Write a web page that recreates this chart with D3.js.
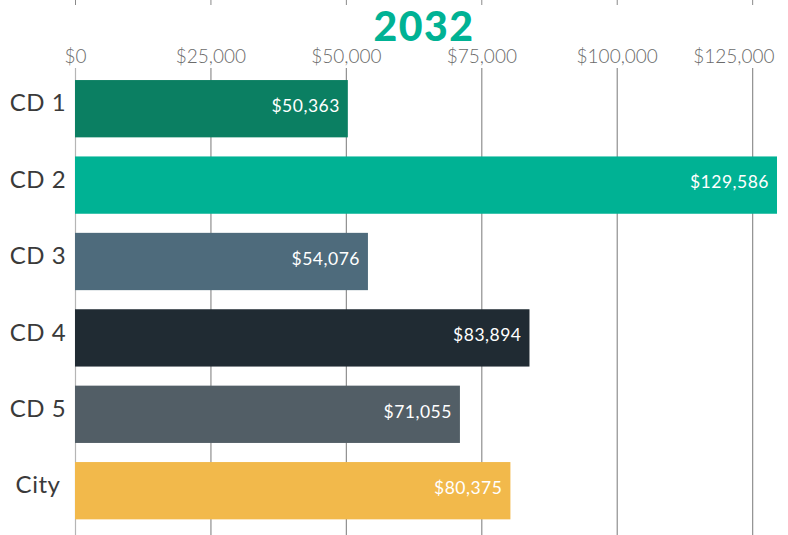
<!DOCTYPE html>
<html>
<head>
<meta charset="utf-8">
<script src="https://cdn.jsdelivr.net/npm/d3@7"></script>
<style>
  html, body { margin: 0; padding: 0; background: #fff; }
  svg { display: block; }
</style>
</head>
<body>
<svg id="chart" width="788" height="535"></svg>
<script>
// Household income by council district, 2032
const year = "2032";
const districts = ["CD 1", "CD 2", "CD 3", "CD 4", "CD 5", "City"];
const incomes = [50363, 129586, 54076, 83894, 71055, 80375];
const barColors = ["#0b7f62", "#00b294", "#4e6b7c", "#202b33", "#525e66", "#f2b94b"];
const tickValues = [0, 25000, 50000, 75000, 100000, 125000];

const W = 788, H = 535;
const margin = { top: 68, right: 11, bottom: 0, left: 75 };

const svg = d3.select("#chart");

const x = d3.scaleLinear()
  .domain([0, d3.max(incomes)])
  .range([margin.left, W - margin.right]);

const y = d3.scaleBand()
  .domain(districts)
  .range([70.5, 528.9])
  .paddingInner(0.25)
  .paddingOuter(0.125);

const money = d3.format("$,");
const font = "Lato, 'Open Sans', sans-serif";

// Short marks along the very top edge
const topTicks = svg.append("g")
  .attr("transform", "translate(0,5)")
  .call(d3.axisTop(x).tickValues(tickValues).tickSize(5).tickFormat(""));
topTicks.select(".domain").remove();
topTicks.selectAll("line").attr("stroke", "#8a8a8a");

// Axis with full-height gridlines
const axis = svg.append("g")
  .attr("transform", `translate(0,${margin.top})`)
  .call(d3.axisTop(x)
    .tickValues(tickValues)
    .tickFormat(money)
    .tickSizeInner(-(H - margin.top))
    .tickSizeOuter(0)
    .tickPadding(5));
axis.select(".domain").remove();
axis.selectAll(".tick line")
  .attr("stroke", (d, i) => i === 0 ? "#b5b5b5" : "#8f8f8f")
  .attr("stroke-width", 1.2);
axis.selectAll(".tick text")
  .attr("fill", "#6b6b6b")
  .style("font-family", font)
  .style("font-weight", 300)
  .style("font-size", "19px")
  .each(function (d) {
    // keep the outermost label inside the canvas
    const w = this.getComputedTextLength();
    const over = x(d) + w / 2 - (W - 14);
    if (over > 0) d3.select(this).attr("x", -over);
  });

// Bars
svg.append("g")
  .selectAll("rect")
  .data(districts)
  .join("rect")
  .attr("x", x(0))
  .attr("y", d => y(d))
  .attr("width", (d, i) => x(incomes[i]) - x(0))
  .attr("height", y.bandwidth())
  .attr("fill", (d, i) => barColors[i]);

// Value labels inside bar ends
svg.append("g")
  .selectAll("text")
  .data(districts)
  .join("text")
  .attr("x", (d, i) => x(incomes[i]) - 8)
  .attr("y", d => y(d) + y.bandwidth() / 2 - 3)
  .attr("dy", "0.36em")
  .attr("text-anchor", "end")
  .attr("fill", "#ffffff")
  .style("font-family", font)
  .style("font-size", "17.5px")
  .style("letter-spacing", "0.5px")
  .text((d, i) => money(incomes[i]));

// District names
svg.append("g")
  .selectAll("text")
  .data(districts)
  .join("text")
  .attr("x", 38)
  .attr("y", d => y(d) + y.bandwidth() / 2 - 6)
  .attr("dy", "0.36em")
  .attr("text-anchor", "middle")
  .attr("fill", "#3a3a3a")
  .style("font-family", font)
  .style("font-size", "24px")
  .style("letter-spacing", "0.5px")
  .text(d => d);

// Year title
svg.append("text")
  .attr("x", 424)
  .attr("y", 40.5)
  .attr("text-anchor", "middle")
  .attr("fill", "#00b294")
  .style("font-family", font)
  .style("font-weight", 900)
  .style("font-size", "41px")
  .style("letter-spacing", "1.5px")
  .text(year);
</script>
</body>
</html>
